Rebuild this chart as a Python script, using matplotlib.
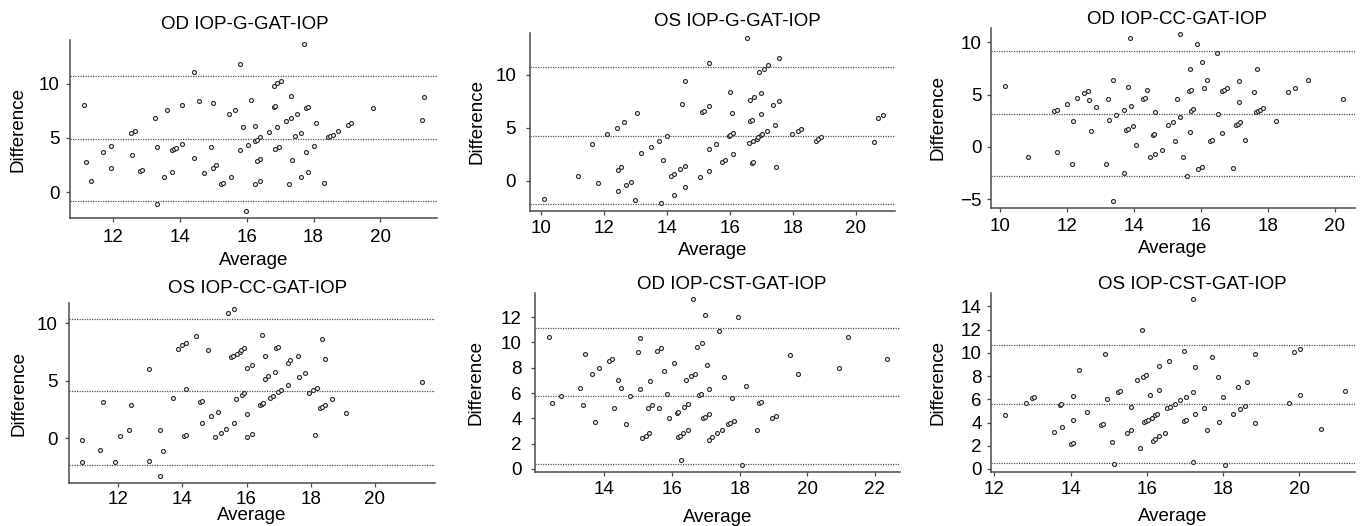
import numpy as np
import matplotlib
matplotlib.use("Agg")
import matplotlib.pyplot as plt

plt.rcParams['font.family'] = ['Liberation Sans', 'DejaVu Sans']

TITLES = ["OD IOP-G-GAT-IOP", "OS IOP-G-GAT-IOP", "OD IOP-CC-GAT-IOP",
          "OS IOP-CC-GAT-IOP", "OD IOP-CST-GAT-IOP", "OS IOP-CST-GAT-IOP"]

# ---- OD IOP-G ----
od_g_avg = [11.13, 11.18, 11.33, 11.68, 11.93, 11.93, 12.54, 12.65, 12.55, 12.8, 12.86,
            13.24, 13.3, 13.3, 13.51, 13.61, 13.75, 13.81, 13.87, 13.77, 14.06, 14.06,
            14.41, 14.41, 14.57, 14.73, 14.92, 14.98, 14.98, 15.09, 15.22, 15.29, 15.48,
            15.64, 15.54, 15.79, 15.79, 15.89, 15.99, 16.05, 16.14, 16.24, 16.24, 16.3,
            16.38, 16.4, 16.3, 16.24, 16.4, 16.65, 16.81, 16.9, 17.01, 16.81, 16.85, 16.9,
            16.85, 16.95, 17.16, 17.26, 17.31, 17.31, 17.36, 17.45, 17.51, 17.61, 17.61,
            17.7, 17.76, 17.82, 17.76, 17.82, 18.07, 18.01, 18.32, 18.44, 18.48, 18.58,
            18.72, 19.03, 19.13, 19.79, 21.26, 21.3]
od_g_diff = [8.03, 2.74, 1.05, 3.72, 4.25, 2.25, 5.48, 5.66, 3.42, 1.94, 2.03,
             6.83, 4.15, -1.08, 1.35, 7.57, 3.85, 4.0, 4.06, 1.82, 8.03, 4.46,
             11.14, 3.14, 8.46, 1.72, 4.15, 8.22, 2.22, 2.46, 0.74, 0.83, 7.26,
             7.57, 1.35, 11.88, 3.85, 6.06, -1.75, 4.34, 8.55, 6.12, 4.71, 4.8,
             5.05, 3.02, 2.83, 0.74, 1.05, 5.54, 9.82, 10.06, 10.25, 7.88, 7.94, 6.06,
             3.94, 4.15, 6.55, 0.74, 8.86, 6.83, 2.95, 5.14, 7.26, 5.48, 1.42,
             13.69, 7.75, 7.85, 3.72, 1.82, 6.34, 4.25, 0.83, 5.05, 5.14, 5.32,
             5.63, 6.22, 6.43, 7.75, 6.62, 8.77]
od_g_lines = [10.74, 4.92, -0.83]

# ---- OS IOP-G ----
os_g_avg = [10.1, 11.17, 11.62, 11.82, 12.1, 12.41, 12.64, 12.46, 12.56, 12.46, 12.7,
            12.85, 13.0, 13.05, 13.19, 13.5, 13.75, 13.88, 13.83, 14.0, 14.13, 14.23,
            14.23, 14.42, 14.47, 14.58, 14.58, 14.58, 15.06, 15.11, 15.17, 15.35, 15.35,
            15.35, 15.35, 15.55, 15.75, 15.85, 15.99, 15.96, 16.01, 16.06, 16.09, 16.09,
            16.55, 16.62, 16.65, 16.65, 16.7, 16.7, 16.74, 16.74, 16.78, 16.85, 16.9,
            16.93, 16.98, 17.0, 17.0, 17.03, 17.08, 17.22, 17.19, 17.37, 17.44, 17.48,
            17.57, 17.57, 17.96, 18.16, 18.26, 18.72, 18.81, 18.88, 20.57, 20.71, 20.86]
os_g_diff = [-1.77, 0.47, 3.42, -0.22, 4.43, 5.0, 5.51, 1.04, 1.3, -0.95, -0.44,
             -0.13, -1.87, 6.36, 2.59, 3.2, 3.7, 1.99, -2.12, 4.21, 0.47, 0.66,
             -1.33, 1.08, 7.25, 9.46, 1.39, -0.63, 0.35, 6.49, 6.58, 7.03, 11.08,
             2.97, 0.95, 3.42, 1.77, 1.99, 8.35, 4.21, 4.27, 6.42, 4.53, 2.5,
             13.48, 3.51, 7.63, 5.6, 5.7, 1.68, 1.8, 3.77, 7.94, 3.92, 4.15,
             10.28, 4.27, 8.32, 6.33, 4.37, 10.57, 10.89, 4.68, 7.15, 5.22, 1.27,
             11.58, 7.53, 4.37, 4.68, 4.91, 3.77, 3.89, 4.08, 3.61, 5.92, 6.23]
os_g_lines = [10.73, 4.21, -2.25]

# ---- OD IOP-CC ----
od_cc_avg = [10.15, 10.85, 11.63, 11.71, 11.71, 12.01, 12.15, 12.2, 12.31, 12.51, 12.62,
             12.66, 12.71, 12.87, 13.16, 13.22, 13.27, 13.37, 13.37, 13.47, 13.72, 13.72,
             13.77, 13.83, 13.82, 13.91, 13.97, 14.07, 13.89, 14.27, 14.33, 14.39, 14.47,
             14.57, 14.61, 14.63, 14.63, 14.83, 15.03, 15.18, 15.22, 15.28, 15.38, 15.38,
             15.48, 15.58, 15.66, 15.7, 15.68, 15.7, 15.78, 15.68, 15.88, 15.93, 16.03,
             16.05, 16.08, 16.18, 16.47, 16.52, 16.28, 16.33, 16.63, 16.63, 16.69, 16.77,
             16.97, 17.05, 17.11, 17.17, 17.13, 17.13, 17.33, 17.59, 17.65, 17.72, 17.77,
             17.85, 17.69, 18.24, 18.59, 18.8, 19.2, 20.25]
od_cc_diff = [5.83, -0.96, 3.44, 3.54, -0.48, 4.11, -1.59, 2.52, 4.71, 5.13, 5.35,
              4.46, 1.53, 3.85, -1.59, 4.55, 2.61, 6.4, -5.16, 3.03, 3.54, -2.45,
              1.66, 1.75, 5.76, 3.95, 2.04, 0.22, 10.41, 4.62, 4.71, 5.41, -0.99,
              1.18, 1.27, 3.31, -0.7, -0.29, 2.1, 2.39, 0.54, 4.62, 2.83, 10.83,
              -0.99, -2.77, 5.35, 5.45, 7.42, 3.41, 3.63, 1.43, 9.81, -2.1, 8.12,
              -1.88, 5.64, 6.4, 9.01, 3.12, 0.61, 0.7, 1.31, 5.35, 5.41, 5.64,
              -2.0, 2.1, 2.23, 2.39, 6.34, 4.33, 0.7, 5.22, 3.31, 3.44, 3.54,
              3.73, 7.45, 2.52, 5.22, 5.64, 6.4, 4.55]
od_cc_lines = [9.14, 3.18, -2.8]

# ---- OS IOP-CC ----
os_cc_avg = [10.88, 10.88, 11.43, 11.53, 11.89, 12.04, 12.34, 12.38, 12.95, 12.95, 13.3,
             13.3, 13.39, 13.69, 13.85, 14.0, 14.1, 14.1, 14.05, 14.1, 14.41, 14.55,
             14.6, 14.6, 14.81, 14.9, 15.01, 15.11, 15.21, 15.37, 15.42, 15.5, 15.57,
             15.69, 15.79, 15.83, 15.93, 15.62, 15.62, 15.67, 15.87, 15.93, 16.01, 16.01,
             16.01, 16.17, 16.18, 16.42, 16.47, 16.52, 16.47, 16.57, 16.57, 16.68, 16.73,
             16.83, 16.88, 16.93, 16.98, 16.97, 17.07, 17.28, 17.28, 17.37, 17.59, 17.63,
             17.82, 17.94, 18.08, 18.19, 18.13, 18.29, 18.35, 18.45, 18.34, 18.45, 18.68,
             19.1, 21.46]
os_cc_diff = [-0.14, -2.09, -1.01, 3.16, -2.09, 0.17, 0.72, 2.87, 5.97, -2.0, 0.67,
              -3.3, -1.1, 3.45, 7.74, 8.09, 8.26, 4.26, 0.17, 0.26, 8.84, 3.16,
              3.25, 1.3, 7.68, 1.88, 0.09, 2.26, 0.46, 0.75, 10.84, 7.07, 7.13,
              7.33, 7.45, 7.62, 7.83, 11.25, 1.3, 3.36, 3.77, 3.91, 6.09, 2.09,
              0.09, 6.38, 0.38, 2.87, 2.99, 3.04, 8.93, 7.16, 5.16, 5.36, 3.45,
              3.65, 5.74, 7.86, 7.91, 3.97, 4.17, 4.58, 6.55, 6.75, 7.16, 5.28,
              5.65, 3.88, 4.17, 4.35, 0.29, 2.58, 2.67, 2.87, 8.64, 6.84, 3.36,
              2.17, 4.84]
os_cc_lines = [10.35, 4.06, -2.32]

# ---- OD IOP-CST ----
od_cst_avg = [12.35, 12.46, 12.71, 13.27, 13.38, 13.43, 13.63, 13.73, 13.83, 14.13, 14.24,
              14.3, 14.39, 14.49, 14.65, 14.75, 15.0, 15.05, 15.05, 15.1, 15.22, 15.32,
              15.3, 15.36, 15.41, 15.57, 15.67, 15.62, 15.76, 15.86, 15.91, 16.07, 16.14,
              16.19, 16.17, 16.24, 16.27, 16.32, 16.36, 16.41, 16.47, 16.47, 16.57, 16.62,
              16.68, 16.73, 16.81, 16.86, 16.88, 16.93, 16.99, 16.98, 17.02, 17.08, 17.08,
              17.08, 17.19, 17.33, 17.38, 17.48, 17.53, 17.67, 17.72, 17.76, 17.83, 17.95,
              18.08, 18.2, 18.51, 18.56, 18.62, 18.97, 19.06, 19.48, 19.73, 20.95, 21.19,
              22.37]
od_cst_diff = [10.42, 5.21, 5.74, 6.42, 5.03, 9.11, 7.53, 3.71, 7.95, 8.53, 8.71,
               4.84, 7.03, 6.42, 3.53, 5.74, 9.24, 10.34, 6.32, 2.42, 2.63, 2.84,
               4.84, 6.92, 5.05, 9.32, 9.53, 4.84, 7.71, 5.92, 4.03, 8.34, 4.45,
               4.53, 2.53, 2.63, 0.71, 2.84, 4.92, 7.03, 5.13, 3.11, 7.32, 13.45,
               7.53, 9.63, 5.84, 5.92, 9.95, 4.03, 4.11, 12.13, 8.24, 6.32, 2.32,
               4.34, 2.53, 2.84, 10.92, 3.11, 7.24, 3.53, 3.63, 5.63, 3.82, 12.0,
               0.34, 6.53, 3.11, 5.21, 5.32, 4.03, 4.21, 9.03, 7.53, 7.95, 10.42,
               8.71]
od_cst_lines = [11.16, 5.79, 0.42]

# ---- OS IOP-CST ----
os_cst_avg = [12.29, 12.82, 12.99, 13.04, 13.57, 13.71, 13.76, 13.78, 14.02, 14.07, 14.06,
              14.06, 14.22, 14.42, 14.8, 14.86, 14.9, 14.95, 15.1, 15.15, 15.24, 15.29,
              15.48, 15.6, 15.6, 15.74, 15.83, 15.88, 15.89, 15.98, 15.93, 15.98, 16.04,
              16.09, 16.13, 16.17, 16.22, 16.23, 16.28, 16.32, 16.33, 16.33, 16.49, 16.53,
              16.6, 16.58, 16.73, 16.88, 16.97, 16.97, 17.02, 17.02, 17.22, 17.22, 17.22,
              17.26, 17.26, 17.51, 17.57, 17.71, 17.86, 17.91, 18.0, 18.06, 18.26, 18.41,
              18.45, 18.59, 18.64, 18.84, 18.84, 19.73, 19.88, 20.03, 20.03, 20.57, 21.2]
os_cst_diff = [4.62, 5.71, 6.08, 6.17, 3.21, 5.51, 5.62, 3.64, 2.12, 2.24, 6.25,
               4.25, 8.55, 4.93, 3.76, 3.84, 9.93, 6.05, 2.35, 0.46, 6.66, 6.74,
               3.13, 5.36, 3.33, 7.63, 1.81, 11.93, 7.95, 8.12, 4.07, 4.16, 4.25,
               6.34, 4.42, 2.44, 2.55, 4.65, 4.76, 8.84, 2.87, 6.83, 3.13, 5.22,
               5.34, 9.32, 5.62, 5.94, 10.13, 4.13, 4.25, 6.22, 14.66, 6.66, 0.63,
               8.75, 4.76, 5.25, 3.33, 9.64, 7.95, 4.04, 6.22, 0.37, 4.73, 7.03,
               5.13, 5.45, 7.52, 9.93, 3.93, 5.71, 10.04, 10.33, 6.34, 3.44, 6.74]
os_cst_lines = [10.7, 5.59, 0.52]

panels = [
    (od_g_avg, od_g_diff, od_g_lines),
    (os_g_avg, os_g_diff, os_g_lines),
    (od_cc_avg, od_cc_diff, od_cc_lines),
    (os_cc_avg, os_cc_diff, os_cc_lines),
    (od_cst_avg, od_cst_diff, od_cst_lines),
    (os_cst_avg, os_cst_diff, os_cst_lines),
]

# axis ranges and ticks
xlims = [(10.7, 21.7), (9.66, 21.24), (9.74, 20.6), (10.46, 21.88), (11.95, 22.74), (11.91, 21.47)]
ylims = [(-2.4, 14.06), (-2.88, 13.96), (-5.83, 11.37), (-3.91, 11.74), (-0.24, 13.9), (-0.26, 15.15)]
xticks = [np.arange(12, 21, 2), np.arange(10, 21, 2), np.arange(10, 21, 2),
          np.arange(12, 21, 2), np.arange(14, 23, 2), np.arange(12, 21, 2)]
yticks = [[0, 5, 10], [0, 5, 10], [-5, 0, 5, 10], [0, 5, 10],
          np.arange(0, 13, 2), np.arange(0, 15, 2)]

# axes boxes in pixels: left, right, top, bottom
W, H = 1364, 526
boxes = [(70, 437, 40, 218), (530, 895, 33, 211), (991, 1355, 28, 208),
         (69, 435, 303, 483), (535, 900, 293, 472), (991, 1355, 293, 472)]
title_x = [0.477, 0.567, 0.511, 0.516, 0.54, 0.552]
title_pad = [8, 5, 2, 7, 1, 1.5]
xtick_pad = [5, 3.6, 4.3, 3, 3.6, 3.6]
ytick_pad = [4.3, 7, 3.6, 5, 6.5, 3.6]
xlabel_pad = [4.3, 3.6, 3.6, -0.7, 8, 7]
ylabel_pad = [9, 7, 10.3, 7, 12, 10.5]

fig = plt.figure(figsize=(W / 100, H / 100), dpi=100)
spine_c = '#4a4a4a'
fs = 13.5

for i, (avg, diff, lines) in enumerate(panels):
    l, r, t, b = boxes[i]
    ax = fig.add_axes([l / W, 1 - b / H, (r - l) / W, (b - t) / H])
    for v in lines:
        ax.axhline(v, color='#555555', linestyle=(0, (1, 1)), linewidth=0.9)
    ax.scatter(avg, diff, s=8, facecolors='white', edgecolors='#2e2e2e',
               linewidths=0.85, zorder=3)
    ax.set_xlim(*xlims[i])
    ax.set_ylim(*ylims[i])
    ax.set_xticks(xticks[i])
    ax.set_yticks(yticks[i])
    ax.spines['top'].set_visible(False)
    ax.spines['right'].set_visible(False)
    for s in ['left', 'bottom']:
        ax.spines[s].set_color(spine_c)
        ax.spines[s].set_linewidth(1.1)
    ax.tick_params(direction='out', length=3, width=0.9, color=spine_c,
                   labelsize=fs)
    ax.tick_params(axis='x', pad=xtick_pad[i])
    ax.tick_params(axis='y', pad=ytick_pad[i])
    ax.set_title(TITLES[i], fontsize=fs, x=title_x[i], pad=title_pad[i])
    ax.set_xlabel("Average", fontsize=fs, labelpad=xlabel_pad[i])
    ax.set_ylabel("Difference", fontsize=fs, labelpad=ylabel_pad[i])

fig.savefig("out.png", dpi=100)
